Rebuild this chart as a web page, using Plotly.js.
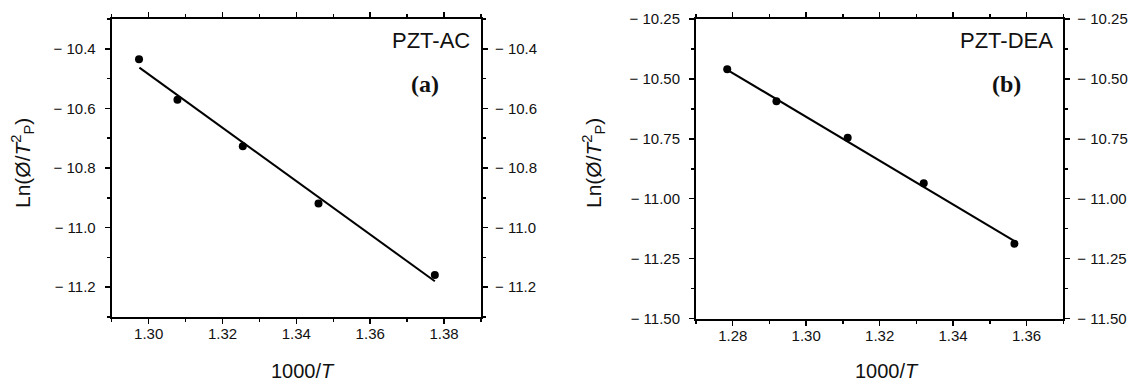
<!DOCTYPE html>
<html>
<head>
<meta charset="utf-8">
<script src="https://cdn.plot.ly/plotly-3.0.1.min.js"></script>
<style>
  html, body { margin: 0; padding: 0; background: #fff; }
  #chart { width: 1143px; height: 382px; }
</style>
</head>
<body>
<div id="chart"></div>
<script>
// Kissinger plots: Ln(phi / Tp^2) against 1000/T for two PZT precursors

// Panel (a): PZT-AC
const acX = [1.2974, 1.3078, 1.3255, 1.3460, 1.3775];
const acY = [-10.435, -10.571, -10.727, -10.919, -11.159];
const acFitX = [1.2975, 1.3775];
const acFitY = [-10.463, -11.180];
const acXTicks = [1.30, 1.32, 1.34, 1.36, 1.38];
const acYTicks = [-10.4, -10.6, -10.8, -11.0, -11.2];

// Panel (b): PZT-DEA
const deaX = [1.2785, 1.2919, 1.3113, 1.3320, 1.3567];
const deaY = [-10.460, -10.593, -10.746, -10.935, -11.188];
const deaFitX = [1.2785, 1.3565];
const deaFitY = [-10.462, -11.175];
const deaXTicks = [1.28, 1.30, 1.32, 1.34, 1.36];
const deaYTicks = [-10.25, -10.50, -10.75, -11.00, -11.25, -11.50];

const W = 1143, H = 382;
const px = v => v / W;          // pixel -> paper x
const py = v => 1 - v / H;      // pixel -> paper y

const FONT = 'Liberation Sans, Arial, sans-serif';
const SERIF = 'Liberation Serif, Times New Roman, serif';
const TEXT = '#111';
const TICK_SIZE = 15;

const fmtX = v => v.toFixed(2);
const fmtY = d => v => (v < 0 ? '\u2212\u00A0' : '') + Math.abs(v).toFixed(d);

function xAxis(domain, range, ticks, minorStep) {
  return {
    domain: domain, range: range,
    tickmode: 'array', tickvals: ticks, ticktext: ticks.map(fmtX),
    ticks: 'outside', ticklen: 5, tickwidth: 1.5, tickcolor: '#000',
    minor: { dtick: minorStep, ticks: 'outside', ticklen: 3, tickwidth: 1.5, tickcolor: '#000' },
    showline: true, linewidth: 2, linecolor: '#000', mirror: 'ticks',
    showgrid: false, zeroline: false,
    tickfont: { family: FONT, size: TICK_SIZE, color: TEXT },
    ticklabelstandoff: -3
  };
}

function yAxis(domain, range, ticks, decimals, minorStep, anchor) {
  return {
    domain: domain, range: range, anchor: anchor,
    tickmode: 'array', tickvals: ticks, ticktext: ticks.map(fmtY(decimals)),
    ticks: 'outside', ticklen: 5, tickwidth: 1.5, tickcolor: '#000',
    minor: { dtick: minorStep, ticks: 'outside', ticklen: 3, tickwidth: 1.5, tickcolor: '#000' },
    showline: true, linewidth: 2, linecolor: '#000', mirror: 'ticks',
    showgrid: false, zeroline: false,
    tickfont: { family: FONT, size: TICK_SIZE, color: TEXT },
    ticklabelstandoff: 6
  };
}

function yRight(over, anchor, range, ticks, decimals) {
  return {
    overlaying: over, side: 'right', anchor: anchor, range: range,
    tickmode: 'array', tickvals: ticks, ticktext: ticks.map(fmtY(decimals)),
    ticks: '', showline: false, showgrid: false, zeroline: false,
    tickfont: { family: FONT, size: TICK_SIZE, color: TEXT },
    ticklabelstandoff: 13
  };
}

const dataPts = { mode: 'markers', marker: { color: '#000', size: 8 }, hoverinfo: 'x+y', showlegend: false };
const fitLine = { mode: 'lines', line: { color: '#000', width: 2 }, hoverinfo: 'skip', showlegend: false };

const traces = [
  Object.assign({ x: acX, y: acY, xaxis: 'x', yaxis: 'y' }, dataPts),
  Object.assign({ x: acFitX, y: acFitY, xaxis: 'x', yaxis: 'y3' }, fitLine),
  Object.assign({ x: deaX, y: deaY, xaxis: 'x2', yaxis: 'y2' }, dataPts),
  Object.assign({ x: deaFitX, y: deaFitY, xaxis: 'x2', yaxis: 'y4' }, fitLine)
];

const yDomA = [py(317), py(19)];
const yDomB = [py(318.5), py(19)];
const rangeA = [-11.3, -10.3];
const rangeB = [-11.5, -10.25];

const yTitle = 'Ln(\u00D8/<i>T</i><sup>2</sup><sub>P</sub>)';
const xTitle = '1000/<i>T</i>';

const layout = {
  width: W, height: H,
  margin: { l: 0, r: 0, t: 0, b: 0 },
  paper_bgcolor: '#fff', plot_bgcolor: '#fff',
  showlegend: false,
  xaxis: xAxis([px(111.7), px(481)], [1.29, 1.39], acXTicks, 0.01),
  yaxis: yAxis(yDomA, rangeA, acYTicks, 1, 0.1, 'x'),
  yaxis3: yRight('y', 'x', rangeA, acYTicks, 1),
  xaxis2: Object.assign(xAxis([px(696), px(1063.3)], [1.27, 1.37], deaXTicks, 0.01), { anchor: 'y2' }),
  yaxis2: yAxis(yDomB, rangeB, deaYTicks, 2, 0.125, 'x2'),
  yaxis4: yRight('y2', 'x2', rangeB, deaYTicks, 2),
  annotations: [
    { text: yTitle, xref: 'paper', yref: 'paper', x: px(22), y: py(163), textangle: -90,
      xanchor: 'center', yanchor: 'middle', showarrow: false, font: { family: FONT, size: 21, color: TEXT } },
    { text: yTitle, xref: 'paper', yref: 'paper', x: px(593), y: py(163), textangle: -90,
      xanchor: 'center', yanchor: 'middle', showarrow: false, font: { family: FONT, size: 21, color: TEXT } },
    { text: xTitle, xref: 'paper', yref: 'paper', x: px(303), y: py(371),
      xanchor: 'center', yanchor: 'middle', showarrow: false, font: { family: FONT, size: 20, color: TEXT } },
    { text: xTitle, xref: 'paper', yref: 'paper', x: px(887), y: py(371),
      xanchor: 'center', yanchor: 'middle', showarrow: false, font: { family: FONT, size: 20, color: TEXT } },
    { text: 'PZT-AC', xref: 'paper', yref: 'paper', x: px(472), y: py(41),
      xanchor: 'right', yanchor: 'middle', showarrow: false, font: { family: FONT, size: 22, color: '#111' } },
    { text: '<b>(a)</b>', xref: 'paper', yref: 'paper', x: px(424.5), y: py(84),
      xanchor: 'center', yanchor: 'middle', showarrow: false, font: { family: SERIF, size: 24, color: '#111' } },
    { text: 'PZT-DEA', xref: 'paper', yref: 'paper', x: px(1055), y: py(41),
      xanchor: 'right', yanchor: 'middle', showarrow: false, font: { family: FONT, size: 22, color: '#111' } },
    { text: '<b>(b)</b>', xref: 'paper', yref: 'paper', x: px(1006.5), y: py(84),
      xanchor: 'center', yanchor: 'middle', showarrow: false, font: { family: SERIF, size: 24, color: '#111' } }
  ]
};

Plotly.newPlot('chart', traces, layout, { displayModeBar: false, staticPlot: true });
</script>
</body>
</html>
